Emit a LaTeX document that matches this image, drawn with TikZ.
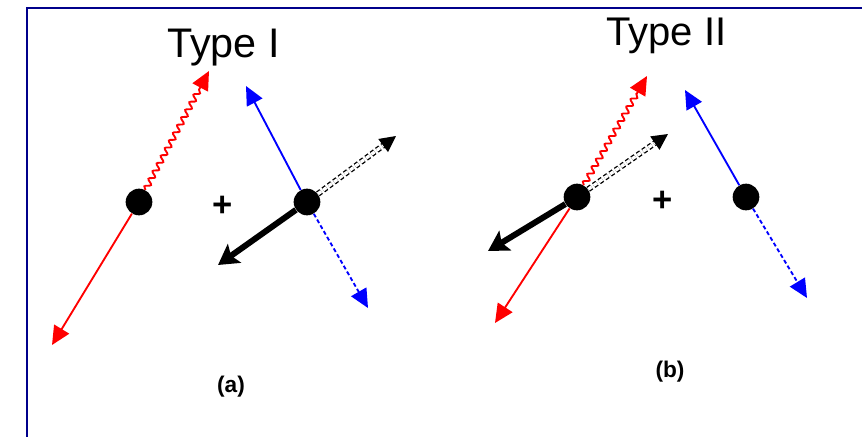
\documentclass[tikz,border=0pt]{standalone}
\usepackage{fontspec}
\setmainfont{Liberation Sans}
\usetikzlibrary{arrows.meta,decorations.pathmorphing}
\definecolor{navyb}{RGB}{0,0,139}
\definecolor{rd}{RGB}{255,0,0}
\definecolor{bl}{RGB}{0,0,255}
\begin{document}
\begin{tikzpicture}[x=0.75pt,y=-0.75pt,
  dot/.style={circle, fill=black, inner sep=0pt, minimum size=20pt},
  redline/.style={draw=rd, line width=1.4pt, -{Triangle[length=14pt,width=13pt]}},
  wavy/.style={redline, decorate, decoration={snake, amplitude=2pt, segment length=6.5pt, post length=14pt}},
  blueline/.style={draw=bl, line width=1.4pt, -{Triangle[length=14pt,width=13pt]}},
  bluedash/.style={blueline, dash pattern=on 3pt off 2pt},
  ddash/.style={draw=black, line width=1pt, double=white, double distance=2.4pt, dash pattern=on 3pt off 2pt, -{Triangle[length=12pt,width=12pt]}},
  heavyarrow/.style={draw=black, line width=4.5pt, -{Stealth[length=15pt,width=17pt,inset=3pt]}},
  title/.style={anchor=base west, inner sep=0pt},
  lab/.style={anchor=base, inner sep=0pt, font=\bfseries\fontsize{17}{20}\selectfont},
  plus/.style={inner sep=0pt, font=\bfseries\fontsize{26}{28}\selectfont}
]
\useasboundingbox (0,0) rectangle (862,436);
\draw[navyb, line width=2.2pt] (27,440) -- (27,8) -- (866,8);

% titles and labels
\node[title, font=\fontsize{31}{36}\selectfont] (t1) at (167,57) {Type I};
\node[title, font=\fontsize{30}{36}\selectfont] (t2) at (606,45) {Type II};
\node[lab] (la) at (231,392) {(a)};
\node[lab] (lb) at (670,377) {(b)};
\node[plus] (p1) at (223,206) {+};
\node[plus] (p2) at (663,201) {+};

% dots
\node[dot] (a1) at (139,202) {};
\node[dot] (a2) at (307,202) {};
\node[dot] (b1) at (577,197) {};
\node[dot] (b2) at (746,197) {};

% arrow tips
\coordinate (a1d) at (52,345);
\coordinate (a1u) at (209,71);
\coordinate (a2u) at (246,86);
\coordinate (a2d) at (368,308);
\coordinate (a2r) at (396,136);
\coordinate (a2l) at (218,265);
\coordinate (b1u) at (647,76);
\coordinate (b1d) at (495,323);
\coordinate (b1r) at (668,134);
\coordinate (b1l) at (488,251);
\coordinate (b2u) at (685,90);
\coordinate (b2d) at (807,298);

% panel (a)
\draw[redline] (a1) -- (a1d);
\draw[wavy] (a1) -- (a1u);
\draw[blueline] (a2) -- (a2u);
\draw[bluedash] (a2) -- (a2d);
\draw[ddash] (a2) -- (a2r);
\draw[heavyarrow] (a2) -- (a2l);

% panel (b)
\draw[redline] (b1) -- (b1d);
\draw[wavy] (b1) -- (b1u);
\draw[ddash] (b1) -- (b1r);
\draw[heavyarrow] (b1) -- (b1l);
\draw[blueline] (b2) -- (b2u);
\draw[bluedash] (b2) -- (b2d);
\end{tikzpicture}
\end{document}
